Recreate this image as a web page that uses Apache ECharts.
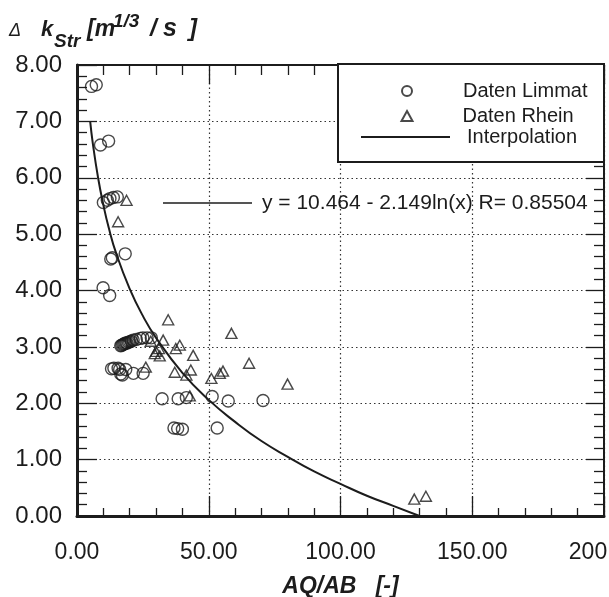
<!DOCTYPE html>
<html>
<head>
<meta charset="utf-8">
<script src="https://cdn.jsdelivr.net/npm/echarts@6/dist/echarts.min.js"></script>
<style>
  html, body { margin: 0; padding: 0; background: #fff; }
  #chart { width: 609px; height: 597px; }
</style>
</head>
<body>
<div id="chart"></div>
<script>
// values
var limmat = [
  [5.5, 7.62], [7.3, 7.65],
  [8.9, 6.58], [12.0, 6.65],
  [10.0, 5.56], [11.5, 5.6], [12.5, 5.63], [13.8, 5.65], [15.3, 5.66],
  [12.8, 4.56], [13.4, 4.58], [18.3, 4.65],
  [9.9, 4.05], [12.4, 3.91],
  [16.6, 3.02], [17.0, 3.03], [17.4, 3.04], [17.8, 3.05], [18.2, 3.06], [18.6, 3.07],
  [19.0, 3.07], [19.5, 3.08], [20.0, 3.09], [20.6, 3.1], [21.3, 3.12], [22.5, 3.13],
  [24.0, 3.15], [25.0, 3.16], [26.6, 3.16], [28.2, 3.16],
  [13.1, 2.61], [14.0, 2.62], [15.6, 2.62], [16.2, 2.6], [16.6, 2.52], [17.2, 2.5],
  [18.5, 2.6], [21.4, 2.53], [25.1, 2.53],
  [32.3, 2.08], [38.4, 2.08], [41.5, 2.1], [51.3, 2.12], [57.4, 2.04], [70.6, 2.05],
  [36.8, 1.56], [38.2, 1.55], [40.0, 1.54], [53.2, 1.56]
];
var rhein = [
  [18.8, 5.6], [15.6, 5.22],
  [34.6, 3.48], [32.7, 3.12], [28.0, 3.1], [29.5, 2.88], [30.0, 2.92], [31.1, 2.97],
  [31.4, 2.84], [37.5, 2.97], [39.0, 3.03], [44.1, 2.85], [37.1, 2.55], [41.5, 2.5],
  [43.2, 2.59], [51.0, 2.44], [54.2, 2.53], [55.4, 2.57], [58.6, 3.24], [65.3, 2.71],
  [79.9, 2.34], [26.1, 2.64], [42.8, 2.13], [128.0, 0.3], [132.4, 0.35]
];
// fitted curve as traced on the plot
var interpolation = [
  [5, 7.0], [6, 6.61], [8, 6.0], [10, 5.52], [12, 5.12], [15, 4.64], [20, 4.03],
  [25, 3.55], [30, 3.16], [40, 2.54], [50, 2.06], [60, 1.67], [70, 1.33], [80, 1.05],
  [90, 0.79], [100, 0.57], [110, 0.36], [120, 0.18], [130, 0.0]
];
var fitLabel = 'y = 10.464 - 2.149ln(x) R= 0.85504';

var ink = '#1c1c1c';
var font = 'Liberation Sans';
var fmt = function (v) { return v.toFixed(2); };
var grid = { type: [1.5, 3], color: '#333', width: 1.2 };
var legendText = { fontFamily: font, fontSize: 20, color: ink };

var chart = echarts.init(document.getElementById('chart'));
var option = {
  backgroundColor: '#fff',
  animation: false,
  grid: { left: 77, right: 5, top: 65, bottom: 81, outerBoundsMode: 'none', containLabel: false },
  xAxis: [{
    type: 'value', min: 0, max: 200, interval: 50,
    name: 'AQ/AB   [-]', nameLocation: 'middle', nameGap: 59,
    nameTextStyle: { fontFamily: font, fontSize: 23, fontWeight: 'bold', fontStyle: 'italic', color: ink },
    axisLine: { lineStyle: { color: ink, width: 3 } },
    axisTick: { inside: true, length: 20, lineStyle: { color: ink, width: 1.3 } },
    minorTick: { show: true, splitNumber: 5, length: 8, lineStyle: { color: ink, width: 1.3 } },
    axisLabel: { formatter: fmt, margin: 25, fontFamily: font, fontSize: 23, color: ink, hideOverlap: false },
    splitLine: { show: true, lineStyle: grid }
  }, {
    type: 'value', position: 'top', min: 0, max: 200, interval: 50,
    axisLine: { onZero: false, lineStyle: { color: ink, width: 2 } },
    axisTick: { inside: true, length: 19, lineStyle: { color: ink, width: 1.3 } },
    minorTick: { show: true, splitNumber: 5, length: 10, lineStyle: { color: ink, width: 1.3 } },
    axisLabel: { show: false },
    splitLine: { show: false }
  }],
  yAxis: [{
    type: 'value', min: 0, max: 8, interval: 1,
    axisLine: { lineStyle: { color: ink, width: 3 } },
    axisTick: { inside: true, length: 20, lineStyle: { color: ink, width: 1.3 } },
    minorTick: { show: true, splitNumber: 5, length: 10, lineStyle: { color: ink, width: 1.3 } },
    axisLabel: { formatter: fmt, margin: 15, fontFamily: font, fontSize: 24, color: ink },
    splitLine: { show: true, lineStyle: grid }
  }, {
    type: 'value', position: 'right', min: 0, max: 8, interval: 1,
    axisLine: { onZero: false, lineStyle: { color: ink, width: 2 } },
    axisTick: { inside: true, length: 18, lineStyle: { color: ink, width: 1.3 } },
    minorTick: { show: true, splitNumber: 5, length: 10, lineStyle: { color: ink, width: 1.3 } },
    axisLabel: { show: false },
    splitLine: { show: false }
  }],
  legend: [{
    data: [{ name: 'Daten Limmat', icon: 'circle' }], left: 401, top: 81, padding: 0,
    itemWidth: 10, itemHeight: 10,
    textStyle: Object.assign({ padding: [0, 0, 0, 46] }, legendText)
  }, {
    data: [{ name: 'Daten Rhein', icon: 'triangle' }], left: 400.5, top: 106, padding: 0,
    itemWidth: 11, itemHeight: 10,
    textStyle: Object.assign({ padding: [0, 0, 0, 45] }, legendText)
  }, {
    data: [{ name: 'Interpolation', icon: 'rect' }], left: 361, top: 127, padding: 0,
    itemWidth: 89, itemHeight: 2,
    textStyle: Object.assign({ padding: [0, 0, 0, 12] }, legendText)
  }],
  graphic: [
    { type: 'rect', z: 3, shape: { x: 338, y: 64, width: 266, height: 98 },
      style: { fill: '#fff', stroke: ink, lineWidth: 2 } },
    { type: 'line', z: 3, shape: { x1: 163, y1: 203, x2: 252, y2: 203 },
      style: { stroke: ink, lineWidth: 1.6 } },
    { type: 'text', z: 3, x: 262, y: 203,
      style: { text: fitLabel, fill: ink, font: '21px "Liberation Sans"', verticalAlign: 'middle' } },
    // y axis title: Δ k_Str [m^1/3 /s]
    { type: 'text', x: 9, y: 31,
      style: { text: 'Δ', fill: ink, font: 'italic 18px "Liberation Sans"', verticalAlign: 'middle' } },
    { type: 'text', x: 41, y: 30,
      style: { text: 'k', fill: ink, font: 'italic bold 22px "Liberation Sans"', verticalAlign: 'middle' } },
    { type: 'text', x: 54, y: 41.5,
      style: { text: 'Str', fill: ink, font: 'italic bold 19px "Liberation Sans"', verticalAlign: 'middle' } },
    { type: 'text', x: 87, y: 29.5,
      style: { text: '[m', fill: ink, font: 'italic bold 23px "Liberation Sans"', verticalAlign: 'middle' } },
    { type: 'text', x: 113, y: 22,
      style: { text: '1/3', fill: ink, font: 'italic bold 19px "Liberation Sans"', verticalAlign: 'middle' } },
    { type: 'text', x: 150, y: 29.5,
      style: { text: '/', fill: ink, font: 'italic bold 24px "Liberation Sans"', verticalAlign: 'middle' } },
    { type: 'text', x: 163, y: 29.5,
      style: { text: 's', fill: ink, font: 'italic bold 25px "Liberation Sans"', verticalAlign: 'middle' } },
    { type: 'text', x: 189, y: 29.5,
      style: { text: ']', fill: ink, font: 'italic bold 24px "Liberation Sans"', verticalAlign: 'middle' } }
  ],
  series: [{
    name: 'Daten Limmat', type: 'scatter', data: limmat,
    symbol: 'circle', symbolSize: 12,
    itemStyle: { color: 'rgba(255,255,255,0)', borderColor: ink, borderWidth: 1.4 }
  }, {
    name: 'Daten Rhein', type: 'scatter', data: rhein,
    symbol: 'triangle', symbolSize: [11, 10],
    itemStyle: { color: 'rgba(255,255,255,0)', borderColor: ink, borderWidth: 1.4 }
  }, {
    name: 'Interpolation', type: 'line', data: interpolation,
    smooth: true, symbol: 'none',
    lineStyle: { color: ink, width: 2 },
    itemStyle: { color: ink }
  }]
};
chart.setOption(option);
</script>
</body>
</html>
